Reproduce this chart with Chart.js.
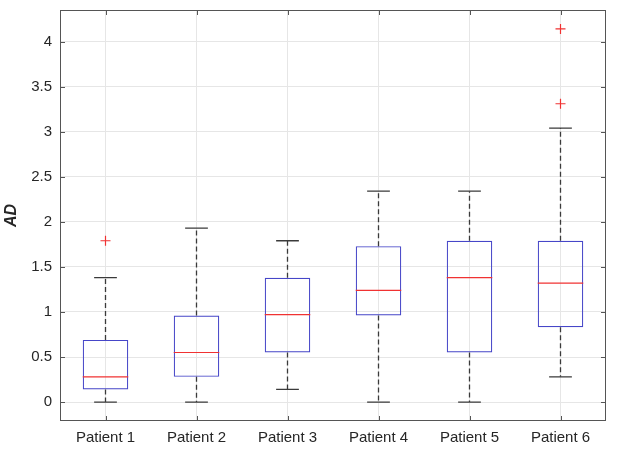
<!DOCTYPE html>
<html>
<head>
<meta charset="utf-8">
<script src="https://cdn.jsdelivr.net/npm/chart.js@4"></script>
<style>
  html, body { margin: 0; padding: 0; background: #fff; }
  #wrap { width: 622px; height: 453px; position: relative; }
</style>
</head>
<body>
<div id="wrap"><canvas id="c"></canvas></div>
<script>
// ---- data ----
const categories   = ['Patient 1', 'Patient 2', 'Patient 3', 'Patient 4', 'Patient 5', 'Patient 6'];
const whiskerLow   = [0.00, 0.00, 0.14, 0.00, 0.00, 0.28];
const q1           = [0.14, 0.28, 0.55, 0.96, 0.55, 0.83];
const median       = [0.28, 0.55, 0.97, 1.24, 1.38, 1.32];
const q3           = [0.69, 0.96, 1.38, 1.73, 1.79, 1.79];
const whiskerHigh  = [1.38, 1.93, 1.79, 2.34, 2.34, 3.04];
const outlierCats  = ['Patient 1', 'Patient 6', 'Patient 6'];
const outlierVals  = [1.79, 3.31, 4.14];
const yTickStep    = 0.5;

const TEXT = '#262626';
const FONT = 'Liberation Sans, Arial, sans-serif';

const boxPlugin = {
  id: 'boxParts',
  afterDatasetsDraw(chart) {
    const ctx = chart.ctx;
    const y = chart.scales.y;
    const bars = chart.getDatasetMeta(0).data;
    ctx.save();
    bars.forEach((bar, i) => {
      const x = bar.x;
      const w = bar.width;
      const yLo = y.getPixelForValue(whiskerLow[i]);
      const yQ1 = y.getPixelForValue(q1[i]);
      const yQ3 = y.getPixelForValue(q3[i]);
      const yHi = y.getPixelForValue(whiskerHigh[i]);
      const yMed = y.getPixelForValue(median[i]);
      // dashed whiskers
      ctx.strokeStyle = '#3a3a3a';
      ctx.lineWidth = 1.3;
      ctx.setLineDash([5, 3]);
      ctx.beginPath();
      ctx.moveTo(x, yQ3); ctx.lineTo(x, yHi);
      ctx.moveTo(x, yQ1); ctx.lineTo(x, yLo);
      ctx.stroke();
      // caps
      ctx.setLineDash([]);
      ctx.beginPath();
      ctx.moveTo(x - w / 4, yHi); ctx.lineTo(x + w / 4, yHi);
      ctx.moveTo(x - w / 4, yLo); ctx.lineTo(x + w / 4, yLo);
      ctx.stroke();
      // median
      ctx.strokeStyle = 'rgb(240,50,50)';
      ctx.lineWidth = 1.2;
      ctx.beginPath();
      ctx.moveTo(x - w / 2, yMed); ctx.lineTo(x + w / 2, yMed);
      ctx.stroke();
    });
    ctx.restore();
  },
  afterDraw(chart) {
    const ctx = chart.ctx;
    const a = chart.chartArea;
    const y = chart.scales.y;
    const x = chart.scales.x;
    ctx.save();
    ctx.strokeStyle = '#555';
    ctx.lineWidth = 1;
    ctx.strokeRect(a.left + 0.5, a.top + 0.5, a.right - a.left - 1, a.bottom - a.top - 1);
    ctx.beginPath();
    const tl = 5;
    y.ticks.forEach(t => {
      const py = Math.round(y.getPixelForValue(t.value)) + 0.5;
      ctx.moveTo(a.left, py); ctx.lineTo(a.left + tl, py);
      ctx.moveTo(a.right, py); ctx.lineTo(a.right - tl, py);
    });
    categories.forEach((c, i) => {
      const px = Math.round(x.getPixelForValue(i)) + 0.5;
      ctx.moveTo(px, a.bottom); ctx.lineTo(px, a.bottom - tl);
      ctx.moveTo(px, a.top); ctx.lineTo(px, a.top + tl);
    });
    ctx.stroke();
    ctx.restore();
  }
};

new Chart(document.getElementById('c'), {
  type: 'bar',
  data: {
    labels: categories,
    datasets: [
      {
        label: 'box',
        data: q1.map((v, i) => [v, q3[i]]),
        backgroundColor: 'rgba(0,0,0,0)',
        borderColor: 'rgb(70,70,200)',
        borderWidth: 1.2,
        borderSkipped: false,
        barPercentage: 0.5,
        categoryPercentage: 1.0
      },
      {
        type: 'line',
        label: 'outliers',
        data: outlierCats.map((c, i) => ({ x: c, y: outlierVals[i] })),
        showLine: false,
        pointStyle: 'cross',
        pointRadius: 5,
        pointBorderWidth: 1.2,
        pointBorderColor: 'rgb(240,50,50)',
        pointBackgroundColor: 'rgb(240,50,50)'
      }
    ]
  },
  options: {
    responsive: true,
    maintainAspectRatio: false,
    animation: false,
    layout: { padding: { top: 10, right: 16, bottom: 0, left: 0 } },
    plugins: { legend: { display: false }, tooltip: { enabled: false } },
    scales: {
      x: {
        offset: true,
        grid: { offset: false, color: '#e6e6e6', drawTicks: false },
        border: { display: false },
        ticks: { color: TEXT, font: { family: FONT, size: 15 }, padding: 8, maxRotation: 0 },
        afterFit(s) { s.height = 32; s.paddingLeft = 0; s.paddingRight = 0; }
      },
      y: {
        min: -0.21,
        max: 4.35,
        grid: { color: '#e6e6e6', drawTicks: false },
        border: { display: false },
        ticks: {
          stepSize: yTickStep, includeBounds: false, color: TEXT,
          font: { family: FONT, size: 15 }, padding: 8,
          callback: v => String(Math.round(v * 10) / 10)
        },
        title: { display: true, text: 'AD', color: TEXT, font: { family: FONT, size: 16, weight: 'bold', style: 'italic' }, padding: { top: 2, bottom: 0 } },
        afterFit(s) { s.width = 60; s.paddingTop = 0; s.paddingBottom = 0; }
      }
    }
  },
  plugins: [boxPlugin]
});
</script>
</body>
</html>
